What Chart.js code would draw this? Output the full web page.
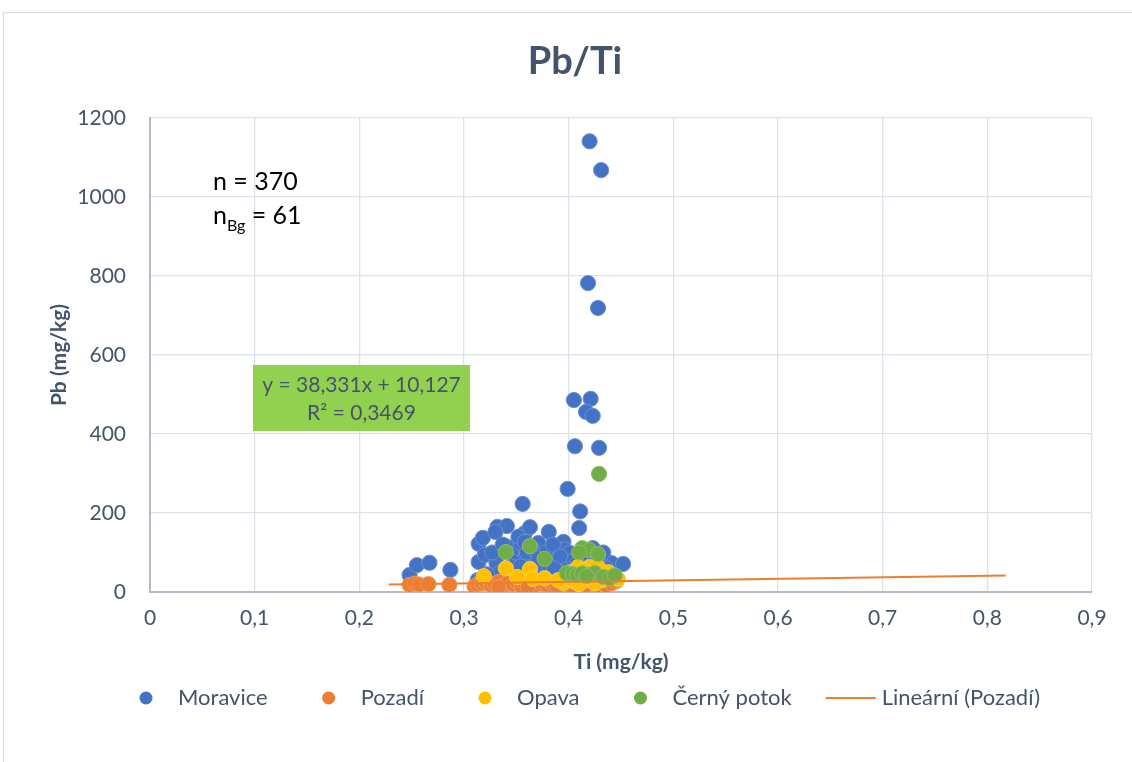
<!DOCTYPE html>
<html>
<head>
<meta charset="utf-8">
<script src="https://cdn.jsdelivr.net/npm/chart.js@4"></script>
<style>
html,body{margin:0;padding:0;background:#fff;}
#wrap{position:relative;width:1132px;height:762px;}
canvas{display:block;}
</style>
</head>
<body>
<div id="wrap"><canvas id="c" width="1132" height="762"></canvas></div>
<script>
// ---- data ----
const chartTitle = "Pb/Ti";
const xAxisTitle = "Ti (mg/kg)";
const yAxisTitle = "Pb (mg/kg)";
const seriesNames = ["Moravice", "Pozadí", "Opava", "Černý potok"];
const trendName = "Lineární (Pozadí)";
const xTicks = [0, 0.1, 0.2, 0.3, 0.4, 0.5, 0.6, 0.7, 0.8, 0.9];
const yTicks = [0, 200, 400, 600, 800, 1000, 1200];

const moraviceTi = [0.420,0.431,0.4185,0.428,0.405,0.421,0.4166,0.423,0.406,0.429,0.399,0.356,0.411,0.410,
  0.248,0.255,0.267,0.287,0.313,0.314,0.314,0.318,0.320,0.331,0.332,0.341,0.341,0.351,0.354,0.358,0.363,0.363,
  0.371,0.375,0.381,0.389,0.395,0.396,0.401,0.423,0.437,0.441,0.452,0.446,0.330,0.327,0.345,0.350,0.360,0.368,
  0.378,0.385,0.392,0.400,0.405,0.412,0.418,0.425,0.430,0.432,0.440,0.415,0.335,0.322,0.347,0.352,0.365,0.386,
  0.433,0.358,0.317,0.347,0.354,0.337,0.371,0.408,0.427,0.436];
const moravicePb = [1141,1068,782,719,486,489,456,446,369,365,261,223,204,162,
  43,68,74,56,30,76,122,137,94,73,165,167,115,81,119,149,164,86,
  124,56,152,76,127,108,99,111,76,73,71,30,152,100,95,60,100,70,
  100,120,90,60,80,95,60,80,90,55,45,40,50,45,76,140,110,60,
  100,127,35,63,65,120,85,70,70,60];

const pozadiTi = [0.248,0.253,0.257,0.266,0.286,0.310,0.313,0.317,0.321,0.326,0.329,0.334,0.338,0.342,0.347,
  0.351,0.355,0.358,0.362,0.367,0.371,0.374,0.379,0.383,0.386,0.391,0.394,0.398,0.403,0.407,0.411,0.414,
  0.419,0.422,0.427,0.431,0.436,0.441,0.445,0.333,0.361,0.389,0.416];
const pozadiPb = [18,21,19,20,18,14,19,22,24,17,21,26,16,23,19,
  25,15,22,20,17,27,21,18,24,16,22,28,19,15,23,20,26,
  12,21,18,24,17,22,27,12,13,15,16];

const opavaTi = [0.319,0.340,0.351,0.363,0.366,0.377,0.395,0.400,0.405,0.409,0.413,0.418,0.420,0.424,0.428,
  0.432,0.436,0.447,0.410,0.425,0.402,0.390,0.415,0.438];
const opavaPb = [40,60,38,58,33,35,23,35,28,63,40,30,63,45,63,
  30,40,33,20,22,50,30,55,50];

const cernyTi = [0.429,0.340,0.363,0.377,0.413,0.420,0.428,0.398,0.404,0.408,0.413,0.420,0.425,0.433,0.439,
  0.417,0.410,0.444];
const cernyPb = [299,101,116,84,111,106,96,48,46,43,47,43,48,38,35,
  40,100,42];

// trendline of Pozadí (from the Excel equation)
const trendSlope = 38.331;
const trendIntercept = 10.127;
const trendFrom = 0.228;
const trendTo = 0.8175;
const trendEquation = "y = 38,331x + 10,127";
const trendR2 = "R² = 0,3469";
const nText = "n = 370";
const nBgValue = "61";

// ---- styles ----
const colors = ["#4472C4", "#ED7D31", "#FFC000", "#70AD47"];
const borderColors = ["#6A8FD2", "#F29A5C", "#FFD040", "#8DC06A"];
const textColor = "#44546A";
const FONT = "Lato, 'Open Sans', sans-serif";

const zip = (xs, ys) => xs.map((x, i) => ({x: x, y: ys[i]}));
const seriesData = [zip(moraviceTi, moravicePb), zip(pozadiTi, pozadiPb), zip(opavaTi, opavaPb), zip(cernyTi, cernyPb)];

const datasets = seriesData.map((d, i) => ({
  type: 'scatter',
  label: seriesNames[i],
  data: d,
  backgroundColor: colors[i],
  borderColor: borderColors[i],
  borderWidth: 1,
  pointRadius: 7.6,
  pointHoverRadius: 7.6,
  order: 10 - i
}));
datasets.push({
  type: 'line',
  label: trendName,
  data: [trendFrom, trendTo].map(x => ({x: x, y: trendSlope * x + trendIntercept})),
  borderColor: "#ED7D31",
  borderWidth: 2,
  pointRadius: 0,
  fill: false,
  order: 0
});

function fmt(v) { return String(v).replace('.', ','); }

const decor = {
  id: 'decor',
  beforeDraw(chart) {
    const ctx = chart.ctx;
    ctx.save();
    ctx.fillStyle = '#fff';
    ctx.fillRect(0, 0, chart.width, chart.height);
    ctx.strokeStyle = '#D9D9D9';
    ctx.lineWidth = 1;
    ctx.strokeRect(3.5, 12.5, 1140, 760);
    ctx.restore();
  },
  afterDraw(chart) {
    const ctx = chart.ctx;
    ctx.save();
    // title
    ctx.fillStyle = textColor;
    ctx.font = "bold 38px " + FONT;
    ctx.textAlign = 'center';
    ctx.textBaseline = 'middle';
    ctx.fillText(chartTitle, 575, 62);

    // n annotations
    ctx.fillStyle = '#000';
    ctx.textAlign = 'left';
    ctx.font = "25px " + FONT;
    ctx.fillText(nText, 213, 182);
    ctx.fillText("n", 213, 216);
    let w = ctx.measureText("n").width;
    ctx.font = "16px " + FONT;
    ctx.fillText("Bg", 213 + w, 226);
    let w2 = ctx.measureText("Bg").width;
    ctx.font = "25px " + FONT;
    ctx.fillText(" = " + nBgValue, 213 + w + w2, 216);

    // equation box
    ctx.fillStyle = '#92D050';
    ctx.fillRect(253, 365, 217, 66);
    ctx.fillStyle = textColor;
    ctx.textAlign = 'center';
    ctx.font = "21px " + FONT;
    ctx.fillText(trendEquation, 361.5, 385);
    ctx.fillText(trendR2, 361.5, 413);

    // legend
    const ly = 698;
    ctx.font = "22px " + FONT;
    ctx.textAlign = 'left';
    ctx.textBaseline = 'middle';
    let x = 146;
    for (let i = 0; i < seriesNames.length; i++) {
      ctx.beginPath();
      ctx.arc(x, ly, 6.5, 0, Math.PI * 2);
      ctx.fillStyle = colors[i];
      ctx.fill();
      ctx.fillStyle = textColor;
      ctx.fillText(seriesNames[i], x + 32, ly);
      x = x + 32 + ctx.measureText(seriesNames[i]).width + 61;
    }
    const lx = x - 61 + 34;
    ctx.strokeStyle = '#ED7D31';
    ctx.lineWidth = 2;
    ctx.beginPath();
    ctx.moveTo(lx, ly);
    ctx.lineTo(lx + 50, ly);
    ctx.stroke();
    ctx.fillStyle = textColor;
    ctx.fillText(trendName, lx + 56, ly);
    ctx.restore();
  }
};

new Chart(document.getElementById('c'), {
  data: {datasets: datasets},
  options: {
    responsive: false,
    animation: false,
    events: [],
    layout: {padding: {top: 118, right: 40, bottom: 87, left: 47}},
    plugins: {legend: {display: false}, title: {display: false}, tooltip: {enabled: false}},
    scales: {
      x: {
        type: 'linear',
        min: xTicks[0], max: xTicks[xTicks.length - 1],
        afterFit(s) { s.height = 83; },
        afterBuildTicks(s) { s.ticks = xTicks.map(v => ({value: v})); },
        ticks: {color: textColor, font: {family: FONT, size: 21}, padding: 14, callback: v => fmt(v), maxRotation: 0},
        grid: {color: '#DDE2E9', lineWidth: 1.3, drawTicks: false},
        border: {display: true, color: '#B4BCC8', width: 2},
        title: {display: true, text: xAxisTitle, color: textColor, font: {family: FONT, size: 21, weight: 'bold'}, padding: {top: 0, bottom: 0}}
      },
      y: {
        type: 'linear',
        min: yTicks[0], max: yTicks[yTicks.length - 1],
        afterFit(s) { s.width = 103; },
        afterBuildTicks(s) { s.ticks = yTicks.map(v => ({value: v})); },
        ticks: {color: textColor, font: {family: FONT, size: 21}, padding: 24, callback: v => fmt(v)},
        grid: {color: '#DDE2E9', lineWidth: 1.3, drawTicks: false},
        border: {display: true, color: '#B4BCC8', width: 2},
        title: {display: true, text: yAxisTitle, color: textColor, font: {family: FONT, size: 21, weight: 'bold'}, padding: {top: 0, bottom: 0}}
      }
    }
  },
  plugins: [decor]
});
</script>
</body>
</html>
